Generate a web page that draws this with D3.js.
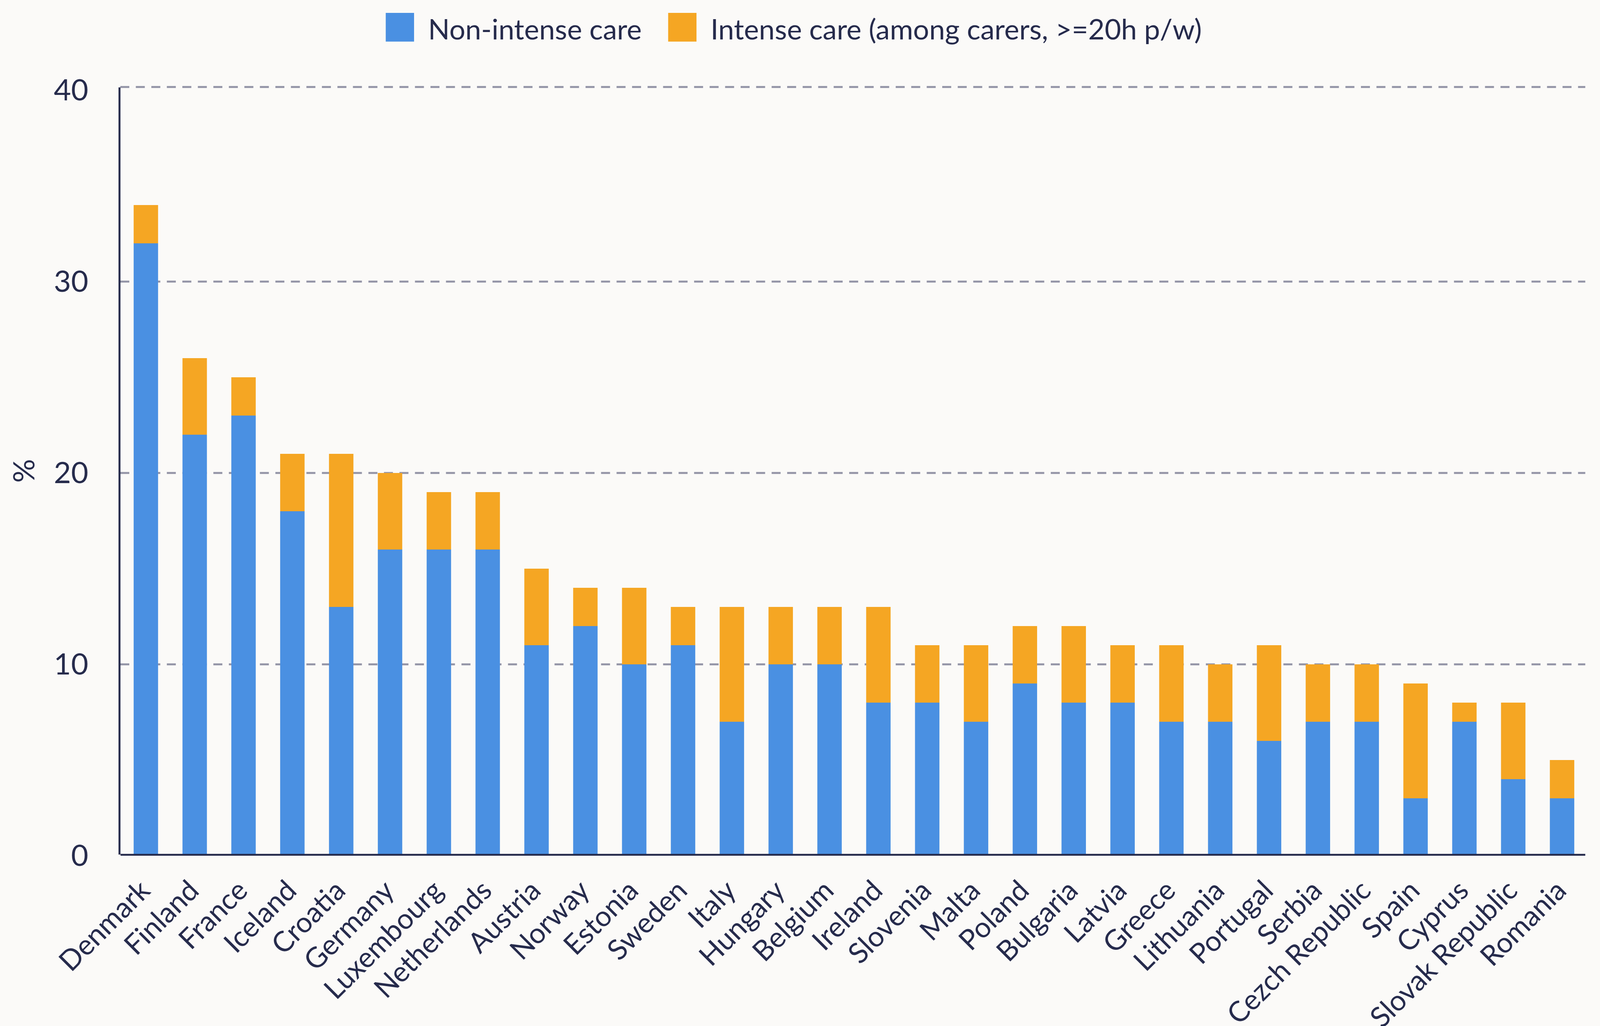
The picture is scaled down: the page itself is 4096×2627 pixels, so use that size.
<!DOCTYPE html>
<html>
<head>
<meta charset="utf-8">
<script src="https://cdn.jsdelivr.net/npm/d3@7"></script>
<style>
html,body{margin:0;padding:0;background:#fbfaf8;}
svg{display:block;}
text{font-family:Lato,"Open Sans",sans-serif;fill:#262b4c;}
</style>
</head>
<body>
<script>
const countries = ["Denmark","Finland","France","Iceland","Croatia","Germany","Luxembourg","Netherlands","Austria","Norway","Estonia","Sweden","Italy","Hungary","Belgium","Ireland","Slovenia","Malta","Poland","Bulgaria","Latvia","Greece","Lithuania","Portugal","Serbia","Cezch Republic","Spain","Cyprus","Slovak Republic","Romania"];
const nonIntense = [32,22,23,18,13,16,16,16,11,12,10,11,7,10,10,8,8,7,9,8,8,7,7,6,7,7,3,7,4,3];
const intense    = [2,4,2,3,8,4,3,3,4,2,4,2,6,3,3,5,3,4,3,4,3,4,3,5,3,3,6,1,4,2];
const seriesNames = ["Non-intense care","Intense care (among carers, >=20h p/w)"];
const seriesColors = ["#4a90e2","#f5a623"];
const yTicks = [0,10,20,30,40];

const W = 4096, H = 2627;
const plotTop = 222.8;
const svg = d3.select("body").append("svg").attr("width", W).attr("height", H);
svg.append("rect").attr("width", W).attr("height", H).attr("fill", "#fbfaf8");

const x = d3.scaleBand().domain(countries).range([305.9, 4066.4]).paddingInner(0.5).paddingOuter(0.29);
const y = d3.scaleLinear().domain([0, 40]).range([2191.0, 231.0]);
const gridY = d => d === d3.max(yTicks) ? plotTop : y(d);

// gridlines
svg.append("g").selectAll("line").data(yTicks.filter(d => d > 0)).join("line")
  .attr("x1", 308).attr("x2", 4058.3)
  .attr("y1", gridY).attr("y2", gridY)
  .attr("stroke", "#9394a6").attr("stroke-width", 5)
  .attr("stroke-dasharray", "23 16.7");

// stacked data
const rows = countries.map((c, i) => ({country: c, a: nonIntense[i], b: intense[i]}));
const stack = d3.stack().keys(["a","b"])(rows);
svg.append("g").selectAll("g").data(stack).join("g")
  .attr("fill", (d, i) => seriesColors[i])
  .selectAll("rect").data(d => d).join("rect")
  .attr("x", d => x(d.data.country))
  .attr("width", x.bandwidth())
  .attr("y", d => y(d[1]))
  .attr("height", d => y(d[0]) - y(d[1]));

// axes lines
svg.append("line").attr("x1", 305.9).attr("x2", 305.9).attr("y1", plotTop + 1).attr("y2", 2188)
  .attr("stroke", "#262b4c").attr("stroke-width", 5);
svg.append("line").attr("x1", 308.5).attr("x2", 4058.3).attr("y1", 2188.7).attr("y2", 2188.7)
  .attr("stroke", "#262b4c").attr("stroke-width", 4.7);

// y tick labels
const yAxis = d3.axisLeft(y).tickValues(yTicks).tickSize(0).tickPadding(0).tickFormat(d3.format("d"));
const gy = svg.append("g").attr("transform", "translate(226,0)").call(yAxis);
gy.select(".domain").remove();
gy.selectAll("text").attr("font-size", 76).attr("font-family", "Lato").attr("fill", "#262b4c").attr("dy", "0.33em");

// y title
svg.append("text").attr("transform", "translate(60.9,1205.5) rotate(-90)")
  .attr("text-anchor", "middle").attr("dy", "0.35em").attr("font-size", 76).text("%");

// x labels
const xAxis = d3.axisBottom(x).tickSize(0).tickPadding(0);
const gx = svg.append("g").attr("transform", "translate(0,2188.7)").call(xAxis);
gx.select(".domain").remove();
gx.selectAll("text")
  .attr("font-size", 72.5).attr("font-family", "Lato").attr("fill", "#262b4c")
  .attr("text-anchor", "end").attr("dy", null).attr("y", null)
  .attr("transform", "translate(15,96) rotate(-45)");

// legend
const legX = [987.5, 1710.5];
const leg = svg.append("g");
seriesNames.forEach((n, i) => {
  leg.append("rect").attr("x", legX[i]).attr("y", 33).attr("width", 72.5).attr("height", 73.5).attr("fill", seriesColors[i]);
  leg.append("text").attr("x", legX[i] + 108.5).attr("y", 101).attr("font-size", 72.5).text(n);
});
</script>
</body>
</html>
